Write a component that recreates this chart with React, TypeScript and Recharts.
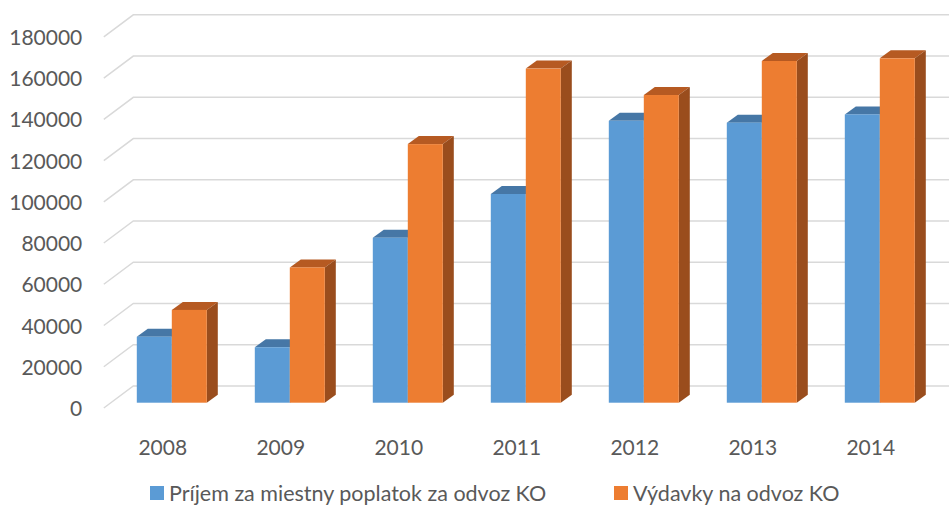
import React from "react";
import { BarChart, Bar, XAxis, YAxis, CartesianGrid, Legend } from "recharts";

const years = ["2008", "2009", "2010", "2011", "2012", "2013", "2014"];
const prijem = [32000, 26900, 80000, 101200, 136700, 135800, 139800];
const vydavky = [45000, 65600, 125400, 162000, 149200, 165700, 167000];
const yTicks = [0, 20000, 40000, 60000, 80000, 100000, 120000, 140000, 160000, 180000];

const series = [
  { key: "prijem", name: "Príjem za miestny poplatok za odvoz KO", front: "#5B9BD5", top: "#4677A6", side: "#41719C" },
  { key: "vydavky", name: "Výdavky na odvoz KO", front: "#ED7D31", top: "#B65A22", side: "#9A4D1D" },
];

const data = years.map((year, i) => ({ year, prijem: prijem[i], vydavky: vydavky[i] }));

const FONT = "Lato, 'Open Sans', sans-serif";
const TEXT = "#595959";
const GRID = "#D9D9D9";

// oblique projection offsets relative to the plane the bars sit on
const FRONT_DX = -8.5;
const FRONT_DY = 5.3;
const BACK_DX = 21;
const BACK_DY = -16.7;
const DEPTH_X = 11;
const DEPTH_Y = 8;

const make3DBar = (s: (typeof series)[number]) => (props: any) => {
  const { x, y, width, height } = props;
  if (!height || height <= 0) return <g />;
  return (
    <g>
      <path
        d={`M${x},${y} L${x + DEPTH_X},${y - DEPTH_Y} L${x + width + DEPTH_X},${y - DEPTH_Y} L${x + width},${y} Z`}
        fill={s.top}
      />
      <path
        d={`M${x + width},${y} L${x + width + DEPTH_X},${y - DEPTH_Y} L${x + width + DEPTH_X},${y + height - DEPTH_Y} L${x + width},${y + height} Z`}
        fill={s.side}
      />
      <rect x={x} y={y} width={width} height={height} fill={s.front} />
    </g>
  );
};

const GridLine = (props: any) => {
  const { x1, y1, x2, index } = props;
  const fx = x1 + FRONT_DX;
  const fy = y1 + FRONT_DY;
  const bx = x1 + BACK_DX;
  const by = y1 + BACK_DY;
  return (
    <path
      key={`g-${index}`}
      d={`M${fx},${fy} L${bx},${by} L${x2 + 12},${by}`}
      fill="none"
      stroke={GRID}
      strokeWidth={1.5}
    />
  );
};

const YTick = (props: any) => {
  const { x, y, payload } = props;
  return (
    <text x={x} y={y + 6} dy="0.35em" textAnchor="end" fill={TEXT} fontSize={21} fontFamily={FONT}>
      {payload.value}
    </text>
  );
};

const XTick = (props: any) => {
  const { x, y, payload } = props;
  return (
    <text x={x + FRONT_DX} y={y + 44} textAnchor="middle" fill={TEXT} fontSize={21} fontFamily={FONT}>
      {payload.value}
    </text>
  );
};

const LEGEND_LEFT = [150, 614];

const LegendContent = () => (
  <div style={{ position: "relative", height: 20, fontFamily: FONT, fontSize: 21.5, color: TEXT, lineHeight: "20px" }}>
    {series.map((s, i) => (
      <div
        key={s.key}
        style={{ position: "absolute", left: LEGEND_LEFT[i], top: -3, height: 20, display: "flex", alignItems: "center", whiteSpace: "nowrap" }}
      >
        <span style={{ display: "inline-block", width: 14, height: 14, background: s.front, marginRight: 5 }} />
        <span>{s.name}</span>
      </div>
    ))}
  </div>
);

export default function App() {
  return (
    <div style={{ position: "absolute", left: 0, top: 0, width: 949, height: 506, background: "#fff" }}>
      <BarChart
        width={949}
        height={506}
        data={data}
        margin={{ top: 31.5, right: 10.7, left: 0, bottom: 0 }}
        barCategoryGap={24.5}
        barGap={0}
        style={{ fontFamily: FONT }}
      >
        <CartesianGrid vertical={false} horizontal={(p: any) => <GridLine {...p} />} />
        <XAxis dataKey="year" axisLine={false} tickLine={false} height={83.3} tick={<XTick />} interval={0} />
        <YAxis
          domain={[0, 180000]}
          ticks={yTicks}
          axisLine={false}
          tickLine={false}
          tickSize={0}
          tickMargin={30}
          width={112.3}
          tick={<YTick />}
          interval={0}
        />
        <Legend verticalAlign="bottom" content={<LegendContent />} />
        {series.map((s) => (
          <Bar key={s.key} dataKey={s.key} name={s.name} shape={make3DBar(s)} isAnimationActive={false} />
        ))}
      </BarChart>
    </div>
  );
}
